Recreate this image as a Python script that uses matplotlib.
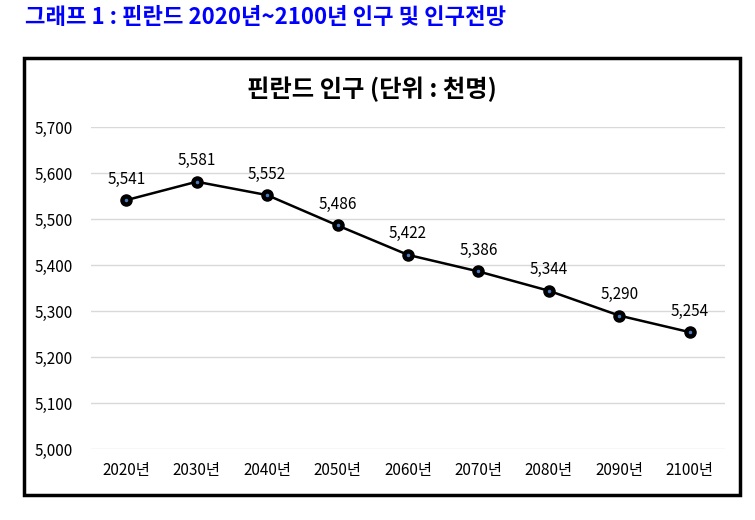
import matplotlib
matplotlib.use("Agg")
import matplotlib.pyplot as plt
from matplotlib.patches import Rectangle
from matplotlib.ticker import FuncFormatter

plt.rcParams['font.family'] = ['Noto Sans CJK KR', 'DejaVu Sans']

years = ["2020년", "2030년", "2040년", "2050년", "2060년", "2070년", "2080년", "2090년", "2100년"]
population = [5541, 5581, 5552, 5486, 5422, 5386, 5344, 5290, 5254]
y_ticks = [5000, 5100, 5200, 5300, 5400, 5500, 5600, 5700]

W, H = 755, 520
fig = plt.figure(figsize=(W / 100, H / 100), dpi=100)

# outer frame of chart
fig.patches.append(Rectangle((24 / W, 1 - 495 / H), (740 - 24) / W, (495 - 58) / H,
                             transform=fig.transFigure, fill=False,
                             edgecolor='black', linewidth=2.5))

fig.text(25 / W, 1 - 18 / H, "그래프 1 : 핀란드 2020년~2100년 인구 및 인구전망",
         color='#0000ff', fontsize=16, fontweight='bold', va='center', ha='left')
fig.text(372 / W, 1 - 89 / H, "핀란드 인구 (단위 : 천명)",
         color='black', fontsize=17.5, fontweight='bold', va='center', ha='center')

# plot area: x from 91 to 725 px, y 5700 at 127 px and 5000 at 449 px
ax = fig.add_axes([91 / W, 1 - 449 / H, (725 - 91) / W, (449 - 127) / H])
x = range(len(years))
ax.plot(x, population, color='black', linewidth=1.8, marker='o', markersize=8,
        markerfacecolor='black', markeredgecolor='black', zorder=3)
ax.plot(x, population, linestyle='none', marker='o', markersize=1.5,
        color='#4a7ac0', zorder=4)

for xi, v in zip(x, population):
    ax.annotate(f"{v:,}", (xi, v), xytext=(0, 9), textcoords='offset points',
                ha='center', va='bottom', fontsize=11)

ax.set_xlim(-0.5, len(years) - 0.5)
ax.set_ylim(5000, 5700)
ax.set_yticks(y_ticks)
ax.yaxis.set_major_formatter(FuncFormatter(lambda v, p: f"{int(v):,}"))
ax.set_xticks(list(x))
ax.set_xticklabels(years)
ax.tick_params(axis='both', length=0, labelsize=11)
ax.tick_params(axis='x', pad=9)
ax.tick_params(axis='y', pad=13)
ax.grid(axis='y', color='#d9d9d9', linewidth=1)
ax.set_axisbelow(True)
for s in ax.spines.values():
    s.set_visible(False)

fig.savefig("out.png", dpi=100)
